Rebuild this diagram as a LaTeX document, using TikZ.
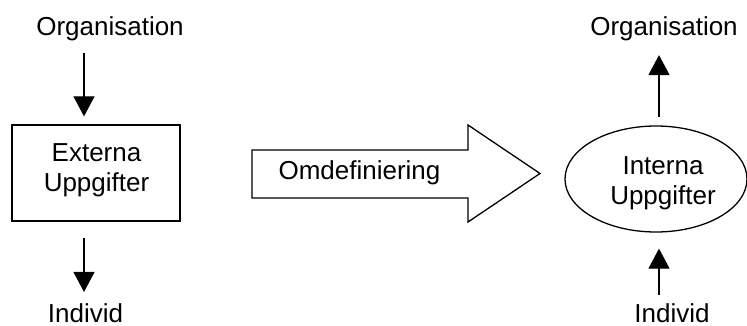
\documentclass[tikz,border=0pt]{standalone}
\usepackage{fontspec}
\setmainfont{Liberation Sans}
\usetikzlibrary{arrows.meta,shapes.geometric}
\begin{document}
\begin{tikzpicture}[x=1pt,y=-1pt,
  every node/.style={font=\fontsize{26}{30}\selectfont, inner sep=0pt},
  lbl/.style={anchor=base},
  flow/.style={line width=1.3pt, -{Triangle[width=21pt,length=20pt]}},
  taskbox/.style={draw, line width=1.3pt, minimum width=168pt, minimum height=96pt},
  taskoval/.style={draw, ellipse, line width=1.3pt, minimum width=182pt, minimum height=106pt},
  bigarrow/.style={draw, line width=1.3pt, line join=miter, fill=white}]
\useasboundingbox (0,0) rectangle (747,326);

% external tasks (left)
\node[lbl] (orgL) at (110,36) {Organisation};
\node[lbl] (indL) at (85.5,322) {Individ};
\node[taskbox] (ext) at (96,173) {};
\node[align=center] (extT) at (96.5,170.5) {Externa\\Uppgifter};
\coordinate (aL) at (84,0);
\draw[flow, shorten <=11.5pt, shorten >=8pt] (orgL.south -| aL) -- (ext.north -| aL);
\draw[flow, shorten <=16pt, shorten >=11pt] (ext.south -| aL) -- (indL.north -| aL);

% redefinition arrow
\draw[bigarrow] (252,150) -- (468,150) -- (468,125) -- (540,173.5)
  -- (468,222) -- (468,198) -- (252,198) -- cycle;
\node[lbl] (omd) at (359.5,179.5) {Omdefiniering};

% internal tasks (right)
\node[lbl] (orgR) at (664,36) {Organisation};
\node[lbl] (indR) at (672,322) {Individ};
\node[taskoval] (int) at (656,179) {};
\node[align=center] (intT) at (663,183.5) {Interna\\Uppgifter};
\coordinate (aR) at (659,0);
\draw[flow, shorten <=8pt, shorten >=13.5pt] (int.north -| aR) -- (orgR.south -| aR);
\draw[flow, shorten <=8.4pt, shorten >=16pt] (indR.north -| aR) -- (int.south -| aR);
\end{tikzpicture}
\end{document}
